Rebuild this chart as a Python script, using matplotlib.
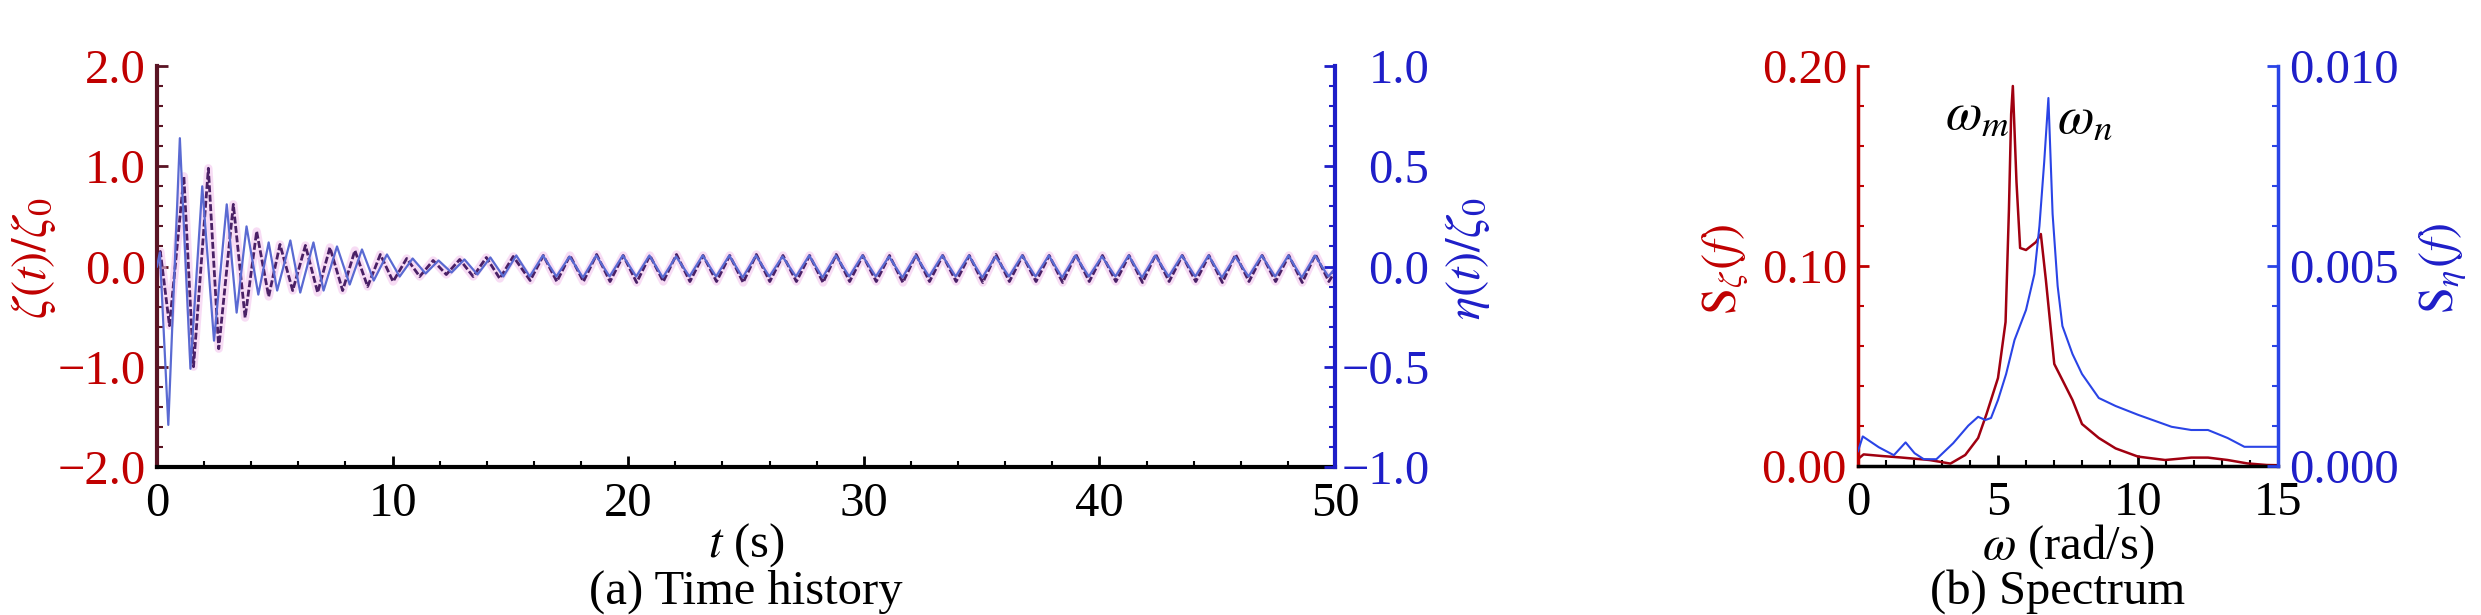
import numpy as np
import matplotlib
matplotlib.use("Agg")
import matplotlib.pyplot as plt
from matplotlib.ticker import MultipleLocator, FuncFormatter

plt.rcParams['font.family'] = ['Liberation Serif', 'DejaVu Serif']
plt.rcParams['mathtext.fontset'] = 'stix'
plt.rcParams['font.size'] = 35

# ---- data ----
# (a) time history: extremes of each record, (t [s], value)
zeta_ext = [
    (0.00, 0.05), (0.14, 0.15), (0.53, -0.59), (1.14, 0.90), (1.55, -1.00),
    (2.18, 0.98), (2.62, -0.82), (3.24, 0.62), (3.74, -0.51), (4.23, 0.35),
    (4.74, -0.30), (5.22, 0.22), (5.76, -0.24), (6.30, 0.21), (6.82, -0.26),
    (7.34, 0.19), (7.88, -0.24), (8.40, 0.16), (8.94, -0.20), (9.48, 0.12),
    (10.02, -0.15), (10.60, 0.08), (11.15, -0.10), (11.72, 0.06), (12.28, -0.08),
    (12.85, 0.07), (13.42, -0.10), (13.98, 0.09), (14.55, -0.12), (15.12, 0.10),
    (15.84, -0.14), (16.40, 0.11), (16.97, -0.15), (17.53, 0.11), (18.10, -0.15),
    (18.66, 0.12), (19.23, -0.15), (19.79, 0.11), (20.36, -0.16), (20.92, 0.11),
    (21.49, -0.15), (22.05, 0.12), (22.62, -0.15), (23.18, 0.11), (23.75, -0.15),
    (24.31, 0.11), (24.88, -0.16), (25.44, 0.12), (26.01, -0.15), (26.57, 0.11),
    (27.14, -0.15), (27.70, 0.11), (28.27, -0.16), (28.83, 0.12), (29.40, -0.15),
    (29.96, 0.11), (30.53, -0.15), (31.09, 0.11), (31.66, -0.16), (32.22, 0.12),
    (32.79, -0.15), (33.35, 0.11), (33.92, -0.15), (34.48, 0.11), (35.05, -0.16),
    (35.61, 0.12), (36.18, -0.15), (36.74, 0.11), (37.31, -0.15), (37.87, 0.11),
    (38.44, -0.16), (39.00, 0.12), (39.57, -0.15), (40.13, 0.11), (40.70, -0.15),
    (41.26, 0.11), (41.83, -0.16), (42.39, 0.12), (42.96, -0.15), (43.52, 0.11),
    (44.09, -0.15), (44.65, 0.11), (45.22, -0.16), (45.78, 0.12), (46.35, -0.15),
    (46.91, 0.11), (47.48, -0.15), (48.04, 0.11), (48.61, -0.16), (49.17, 0.12),
    (49.74, -0.15), (50.00, -0.05),
]
eta_ext = [
    (0.00, 0.00), (0.12, 0.07), (0.48, -0.79), (0.97, 0.64), (1.42, -0.51),
    (1.92, 0.40), (2.42, -0.37), (2.96, 0.31), (3.38, -0.23), (3.80, 0.20),
    (4.30, -0.14), (4.74, 0.12), (5.10, -0.12), (5.66, 0.13), (6.08, -0.13),
    (6.64, 0.12), (7.07, -0.12), (7.64, 0.10), (8.18, -0.09), (8.70, 0.085),
    (9.20, -0.07), (9.76, 0.06), (10.30, -0.05), (10.85, 0.04), (11.40, -0.035),
    (11.95, 0.03), (12.50, -0.03), (13.05, 0.035), (13.60, -0.04), (14.15, 0.045),
    (14.70, -0.05), (15.25, 0.055), (15.82, -0.05), (16.38, 0.055), (16.95, -0.05),
    (17.51, 0.05), (18.08, -0.055), (18.64, 0.055), (19.21, -0.05), (19.77, 0.055),
    (20.34, -0.05), (20.90, 0.055), (21.47, -0.055), (22.03, 0.05), (22.60, -0.05),
    (23.16, 0.055), (23.73, -0.05), (24.29, 0.055), (24.86, -0.055), (25.42, 0.055),
    (25.99, -0.05), (26.55, 0.05), (27.12, -0.05), (27.68, 0.055), (28.25, -0.055),
    (28.81, 0.055), (29.38, -0.05), (29.94, 0.055), (30.51, -0.05), (31.07, 0.05),
    (31.64, -0.055), (32.20, 0.055), (32.77, -0.05), (33.33, 0.055), (33.90, -0.05),
    (34.46, 0.055), (35.03, -0.055), (35.59, 0.05), (36.16, -0.05), (36.72, 0.055),
    (37.29, -0.05), (37.85, 0.055), (38.42, -0.055), (38.98, 0.055), (39.55, -0.05),
    (40.11, 0.05), (40.68, -0.05), (41.24, 0.055), (41.81, -0.055), (42.37, 0.055),
    (42.94, -0.05), (43.50, 0.055), (44.07, -0.05), (44.63, 0.055), (45.20, -0.055),
    (45.76, 0.05), (46.33, -0.05), (46.89, 0.055), (47.46, -0.05), (48.02, 0.055),
    (48.59, -0.055), (49.15, 0.055), (49.72, -0.05), (50.00, -0.01),
]

# (b) spectrum
omega_zeta = [0.0, 0.2, 0.85, 1.5, 2.55, 3.3, 3.83, 4.29, 4.59, 5.0, 5.27, 5.39,
              5.47, 5.53, 5.66, 5.79, 6.0, 6.36, 6.53, 6.71, 7.01, 7.3, 7.66, 8.0,
              8.6, 9.2, 10.0, 10.97, 11.9, 12.5, 13.2, 13.9, 14.6, 15.0]
s_zeta = [0.0035, 0.0058, 0.005, 0.0043, 0.003, 0.0012, 0.0055, 0.014, 0.026,
          0.044, 0.072, 0.128, 0.176, 0.19, 0.142, 0.109, 0.108, 0.112, 0.116,
          0.093, 0.051, 0.043, 0.033, 0.021, 0.014, 0.0088, 0.0047, 0.003,
          0.0042, 0.0042, 0.003, 0.0013, 0.0005, 0.0004]
omega_eta = [0.0, 0.17, 0.74, 1.28, 1.7, 2.02, 2.35, 2.8, 3.4, 3.94, 4.29, 4.55,
             4.75, 5.0, 5.29, 5.59, 6.0, 6.3, 6.48, 6.65, 6.8, 6.95, 7.13, 7.3,
             7.66, 8.0, 8.6, 9.2, 10.0, 11.2, 11.9, 12.5, 13.2, 13.8, 15.0]
s_eta = [0.00037, 0.00074, 0.00047, 0.00027, 0.00059, 0.00032, 0.00017, 0.00017,
         0.00057, 0.00101, 0.00123, 0.00115, 0.0012, 0.00165, 0.0023, 0.00315,
         0.0039, 0.0048, 0.006, 0.0076, 0.0092, 0.0063, 0.0045, 0.0035, 0.0028,
         0.0023, 0.0017, 0.0015, 0.00128, 0.00098, 0.0009, 0.0009, 0.0007,
         0.00048, 0.00048]

RED = '#c00000'
DARKRED = '#5a1424'
BLUE = '#1e1ec8'
BRIGHTBLUE = '#2a44e6'


def fmt(decimals):
    return FuncFormatter(lambda v, p: f"{v:.{decimals}f}".replace('-', '\u2212'))


def style_ticks(ax, axis, color, labelcolor, pad):
    ax.tick_params(axis=axis, which='major', direction='in', length=8, width=2,
                   color=color, labelcolor=labelcolor, pad=pad)
    ax.tick_params(axis=axis, which='minor', direction='in', length=4.5,
                   width=1.5, color=color)


W, H = 2481, 615
fig = plt.figure(figsize=(W / 100, H / 100), dpi=100)

# ---------------- (a) time history ----------------
ax1 = fig.add_axes([157 / W, (H - 467) / H, (1335 - 157) / W, (467 - 66) / H])
ax1r = ax1.twinx()

zt, zv = zip(*zeta_ext)
et, ev = zip(*eta_ext)
ax1.plot(zt, zv, color='#f3c6ee', lw=6, alpha=0.6, solid_joinstyle='round')
ax1.plot(zt, zv, color='#4a2066', lw=2.0, dashes=(2.5, 0.9))
ax1r.plot(et, ev, color='#5a6ad2', lw=1.6)

ax1.set_xlim(0, 50)
ax1.set_ylim(-2, 2)
ax1r.set_ylim(-1, 1)
ax1.xaxis.set_major_locator(MultipleLocator(10))
ax1.xaxis.set_minor_locator(MultipleLocator(2))
ax1.yaxis.set_major_locator(MultipleLocator(1.0))
ax1.yaxis.set_minor_locator(MultipleLocator(0.2))
ax1r.yaxis.set_major_locator(MultipleLocator(0.5))
ax1r.yaxis.set_minor_locator(MultipleLocator(0.1))
ax1.yaxis.set_major_formatter(fmt(1))
ax1r.yaxis.set_major_formatter(fmt(1))

for sp in ['top', 'right']:
    ax1.spines[sp].set_visible(False)
for sp in ['top', 'left', 'bottom']:
    ax1r.spines[sp].set_visible(False)
ax1.spines['left'].set_color(DARKRED)
ax1.spines['left'].set_linewidth(3)
ax1.spines['bottom'].set_color('black')
ax1.spines['bottom'].set_linewidth(3)
ax1r.spines['right'].set_color(BLUE)
ax1r.spines['right'].set_linewidth(3)

style_ticks(ax1, 'x', 'black', 'black', 11)
style_ticks(ax1, 'y', DARKRED, RED, 8)
style_ticks(ax1r, 'y', BLUE, BLUE, 68)
for tl in ax1r.get_yticklabels():
    tl.set_horizontalalignment('right')

ax1.set_xlabel(r'$t$ (s)')
ax1.xaxis.set_label_coords(0.5, -0.135)
ax1.set_ylabel(r'$\zeta(t)/\zeta_0$', color=RED)
ax1.yaxis.set_label_coords(-0.084, 0.52)
ax1r.set_ylabel(r'$\eta(t)/\zeta_0$', color=BLUE)
ax1r.yaxis.set_label_coords(1.092, 0.52)
fig.text(746 / W, (H - 592) / H, '(a) Time history', ha='center', va='center')

# ---------------- (b) spectrum ----------------
ax2 = fig.add_axes([1858 / W, (H - 466) / H, (2278 - 1858) / W, 400 / H])
ax2r = ax2.twinx()

ax2.plot(omega_zeta, s_zeta, color='#a00010', lw=1.8)
ax2r.plot(omega_eta, s_eta, color=BRIGHTBLUE, lw=1.5)

ax2.set_xlim(0, 15)
ax2.set_ylim(0, 0.20)
ax2r.set_ylim(0, 0.010)
ax2.xaxis.set_major_locator(MultipleLocator(5))
ax2.xaxis.set_minor_locator(MultipleLocator(1))
ax2.yaxis.set_major_locator(MultipleLocator(0.10))
ax2.yaxis.set_minor_locator(MultipleLocator(0.02))
ax2r.yaxis.set_major_locator(MultipleLocator(0.005))
ax2r.yaxis.set_minor_locator(MultipleLocator(0.001))
ax2.yaxis.set_major_formatter(fmt(2))
ax2r.yaxis.set_major_formatter(fmt(3))

for sp in ['top', 'right']:
    ax2.spines[sp].set_visible(False)
for sp in ['top', 'left', 'bottom']:
    ax2r.spines[sp].set_visible(False)
ax2.spines['left'].set_color(RED)
ax2.spines['left'].set_linewidth(2.5)
ax2.spines['bottom'].set_color('black')
ax2.spines['bottom'].set_linewidth(2.5)
ax2r.spines['right'].set_color(BRIGHTBLUE)
ax2r.spines['right'].set_linewidth(2.5)

style_ticks(ax2, 'x', 'black', 'black', 11)
style_ticks(ax2, 'y', RED, RED, 8)
style_ticks(ax2r, 'y', BRIGHTBLUE, BLUE, 8)

ax2.set_xlabel(r'$\omega$ (rad/s)')
ax2.xaxis.set_label_coords(0.5, -0.14)
ax2.set_ylabel(r'$\mathrm{S}_\zeta(f)$', color=RED)
ax2.yaxis.set_label_coords(-0.257, 0.49)
ax2r.set_ylabel(r'$\mathrm{S}_\eta(f)$', color=BLUE)
ax2r.yaxis.set_label_coords(1.331, 0.495)

ax2.text(3.1, 0.187, r'$\omega_m$', ha='left', va='top', color='black', fontsize=38)
ax2.text(7.1, 0.185, r'$\omega_n$', ha='left', va='top', color='black', fontsize=38)
fig.text(2058 / W, (H - 592) / H, '(b) Spectrum', ha='center', va='center')

fig.savefig('out.png', dpi=100)
